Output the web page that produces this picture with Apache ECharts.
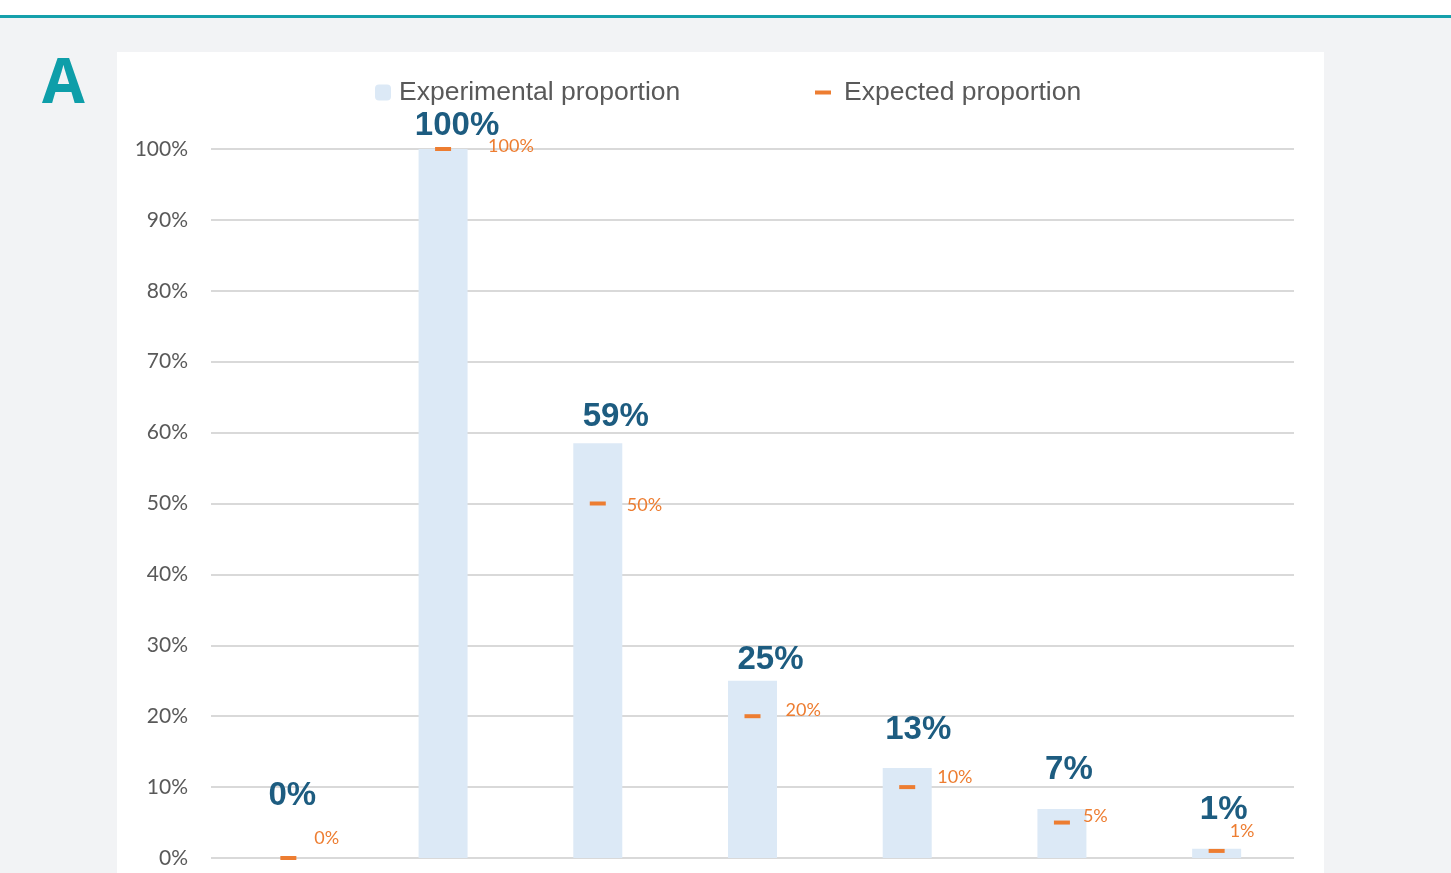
<!DOCTYPE html>
<html><head><meta charset="utf-8">
<script src="https://cdn.jsdelivr.net/npm/echarts@6/dist/echarts.min.js"></script>
<style>html,body{margin:0;padding:0;background:#fff}#c{width:1451px;height:873px}</style>
</head><body><div id="c"></div>
<script>
const categories = ['1', '2', '3', '4', '5', '6', '7'];
const experimental = [0, 1.0, 0.585, 0.25, 0.127, 0.069, 0.013];
const expected = [0, 1.0, 0.5, 0.2, 0.1, 0.05, 0.01];
const yTicks = [0, 0.1, 0.2, 0.3, 0.4, 0.5, 0.6, 0.7, 0.8, 0.9, 1.0];

// label layout tweaks (pixels), kept apart from values
const barLabelOffsets = [[4,-41],[14,-2],[18,-5],[18,1],[11,-17],[7,-18],[7,-17]];
const expLabelOffsets = [[13,-20],[32,-3],[16,2],[20,-6],[17,-10],[8,-6],[0,-20]];

const pct = v => Math.round(v * 100) + '%';
const chart = echarts.init(document.getElementById('c'));
chart.setOption({
  backgroundColor: '#ffffff',
  animation: false,
  graphic: [
    {type:'rect', z:-10, shape:{x:0,y:17,width:1451,height:860}, style:{fill:'#f2f3f5'}},
    {type:'rect', z:-9, shape:{x:0,y:15,width:1451,height:3}, style:{fill:'#15a0ab'}},
    {type:'rect', z:-8, shape:{x:117,y:52,width:1207,height:830}, style:{fill:'#ffffff'}},
    {type:'text', z:-7, left:42, top:54, style:{text:'A', fill:'#0e9ea9', font:'bold 62px "Open Sans", "Liberation Sans", sans-serif'}}
  ],
  legend: [
    {left:375, top:79, padding:0, itemWidth:16, itemHeight:16, data:['Experimental proportion'],
     textStyle:{fontFamily:'"Liberation Sans", sans-serif', fontSize:26.5, color:'#595959', padding:[0,0,0,3]}},
    {left:815, top:79, padding:0, itemWidth:16, itemHeight:4, data:[{name:'Expected proportion', icon:'rect'}],
     textStyle:{fontFamily:'"Liberation Sans", sans-serif', fontSize:26.5, color:'#595959', padding:[0,0,0,8]}}
  ],
  grid: {left:211, right:157, top:149, bottom:15, containLabel:false},
  xAxis: {type:'category', data:categories, axisLine:{show:false}, axisTick:{show:false}, axisLabel:{show:false}},
  yAxis: {type:'value', min:0, max:1, interval:0.1,
    axisLine:{show:false}, axisTick:{show:false},
    axisLabel:{formatter:v => pct(v), margin:23, fontSize:21, color:'#595959', fontFamily:'Lato, "Open Sans", sans-serif'},
    splitLine:{lineStyle:{color:'#d9d9d9', width:2}}},
  series: [
    {name:'Experimental proportion', type:'bar', barWidth:49,
     itemStyle:{color:'#dce9f6'},
     data: experimental.map((v,i) => ({value:v, label:{offset:barLabelOffsets[i]}})),
     label:{show:true, position:'top', distance:5, formatter:p => pct(p.value),
       fontFamily:'"Liberation Sans", sans-serif', fontWeight:'bold', fontSize:33, color:'#1d5c80'}},
    {name:'Expected proportion', type:'scatter', symbol:'rect', symbolSize:[16,4], z:5,
     itemStyle:{color:'#ed7d31', opacity:1},
     data: expected.map((v,i) => ({value:v, label:{offset:expLabelOffsets[i]}})),
     label:{show:true, position:'right', distance:5, formatter:p => pct(p.value),
       fontFamily:'Lato, "Open Sans", sans-serif', fontSize:18, color:'#ed7d31'}}
  ]
});
</script></body></html>
